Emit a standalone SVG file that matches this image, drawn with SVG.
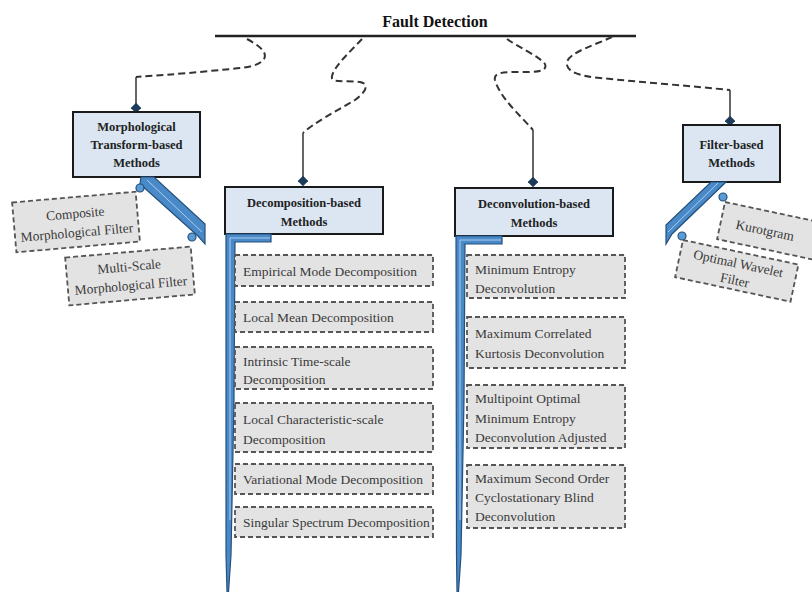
<svg xmlns="http://www.w3.org/2000/svg" width="812" height="592" viewBox="0 0 812 592">
<style>
.title{font-family:"Liberation Serif","Times New Roman",serif;font-weight:bold;font-size:16px;fill:#111;text-anchor:middle}
.hdr rect{fill:#dbe6f2;stroke:#1a1a1a;stroke-width:2}
.hdr text{font-family:"Liberation Serif","Times New Roman",serif;font-weight:bold;font-size:12.5px;fill:#222;text-anchor:middle}
.item rect{fill:#e3e3e3;stroke:#555;stroke-width:1.8;stroke-dasharray:5 3}
.item text{font-family:"Liberation Serif","Times New Roman",serif;font-size:13.5px;fill:#3a3a3a}
.item text.c{text-anchor:middle}
.dash{fill:none;stroke:#333;stroke-width:2;stroke-dasharray:7 4}
.solid{fill:none;stroke:#333;stroke-width:1.5}
.spine{fill:#4a89c8;stroke:#23507c;stroke-width:1.2}
.hl{fill:none;stroke:#a9cdef;stroke-width:1}
.hook{fill:#5b9bd5;stroke:#23507c;stroke-width:1.2}
</style>
<defs>
<marker id="dia" viewBox="0 0 10 10" refX="5" refY="5" markerWidth="7" markerHeight="7" orient="auto">
<path d="M0,5 L5,0 L10,5 L5,10 Z" fill="#1f3b5a"/>
</marker>
</defs>
<rect width="812" height="592" fill="#fff"/>

<g id="root">
<text class="title" x="435" y="27">Fault Detection</text>
<line x1="215" y1="36" x2="636" y2="36" stroke="#222" stroke-width="2.5"/>
</g>

<g id="connectors">
<path class="dash" d="M247,39 C258,45 268,52 264,59 C258,68 240,68 210,71 C180,74 150,76 136,77"/>
<path class="solid" d="M136,77 L136,108" marker-end="url(#dia)"/>
<path class="dash" d="M362,39 C350,52 335,65 332,76 C330,84 345,80 360,82 C370,84 366,92 355,100 C335,112 315,122 303,133"/>
<path class="solid" d="M303,133 L303,181" marker-end="url(#dia)"/>
<path class="dash" d="M507,39 C520,48 540,57 545,64 C548,72 535,72 520,72 C505,72 493,72 495,80 C500,98 520,115 533,130"/>
<path class="solid" d="M533,130 L533,182" marker-end="url(#dia)"/>
<path class="dash" d="M612,37 C595,45 570,52 567,62 C565,72 580,76 600,78 C640,82 690,86 730,90"/>
<path class="solid" d="M730,90 L730,121" marker-end="url(#dia)"/>
</g>

<g id="morph" class="hdr">
<rect x="73" y="112" width="127" height="65"/>
<text x="136.5" y="131">Morphological</text>
<text x="136.5" y="149">Transform-based</text>
<text x="136.5" y="167">Methods</text>
</g>
<g id="decomp" class="hdr">
<rect x="225" y="187" width="158" height="47"/>
<text x="304" y="207">Decomposition-based</text>
<text x="304" y="226">Methods</text>
</g>
<g id="deconv" class="hdr">
<rect x="455" y="188" width="158" height="48"/>
<text x="534" y="208">Deconvolution-based</text>
<text x="534" y="227">Methods</text>
</g>
<g id="filter" class="hdr">
<rect x="683" y="125" width="97" height="57"/>
<text x="731.5" y="149">Filter-based</text>
<text x="731.5" y="167">Methods</text>
</g>

<g id="spines">
<polygon class="spine" points="141,177 154,177 205,224 205,244 198,236 140,184"/>
<line class="hl" x1="147" y1="180" x2="202" y2="232"/>
<polygon class="spine" points="711,182 726,182 672,234 666,244 666,225"/>
<line class="hl" x1="718" y1="183" x2="668" y2="232"/>
<polygon class="spine" points="226,234 271,234 271,242 235,242 234,400 231,555 228.5,592 227,592 226,555"/>
<polyline class="hl" points="230,520 230,238 270,238"/>
<polygon class="spine" points="456,236 502,236 502,244 465,244 464,400 461,555 458.5,592 457,592 456.5,555"/>
<polyline class="hl" points="460,520 460,240 501,240"/>
<circle class="hook" cx="140" cy="188" r="4"/>
<circle class="hook" cx="192" cy="237" r="4"/>
<circle class="hook" cx="723" cy="197" r="4"/>
<circle class="hook" cx="682" cy="236" r="4"/>
</g>

<g id="m1" class="item" transform="rotate(-5 76 222)">
<rect x="14" y="197" width="124" height="50"/>
<text class="c" x="76" y="218">Composite</text>
<text class="c" x="76" y="237">Morphological Filter</text>
</g>
<g id="m2" class="item" transform="rotate(-5 130 276)">
<rect x="67" y="252" width="126" height="48"/>
<text class="c" x="130" y="271">Multi-Scale</text>
<text class="c" x="130" y="290">Morphological Filter</text>
</g>

<g id="f1" class="item" transform="rotate(12 725 202)">
<rect x="725" y="202" width="102" height="38"/>
<text class="c" x="770" y="226">Kurotgram</text>
</g>
<g id="f2" class="item" transform="rotate(12 683 240)">
<rect x="683" y="240" width="118" height="38"/>
<text class="c" x="742" y="256">Optimal Wavelet</text>
<text class="c" x="742" y="273">Filter</text>
</g>

<g id="d1" class="item"><rect x="235" y="255" width="198" height="31"/><text x="243" y="276">Empirical Mode Decomposition</text></g>
<g id="d2" class="item"><rect x="235" y="302" width="198" height="30"/><text x="243" y="322">Local Mean Decomposition</text></g>
<g id="d3" class="item"><rect x="235" y="347" width="198" height="42"/><text x="243" y="366">Intrinsic Time-scale</text><text x="243" y="384">Decomposition</text></g>
<g id="d4" class="item"><rect x="235" y="403" width="198" height="49"/><text x="243" y="424">Local Characteristic-scale</text><text x="243" y="444">Decomposition</text></g>
<g id="d5" class="item"><rect x="235" y="464" width="198" height="30"/><text x="243" y="484">Variational Mode Decomposition</text></g>
<g id="d6" class="item"><rect x="235" y="507" width="198" height="30"/><text x="243" y="527">Singular Spectrum Decomposition</text></g>

<g id="c1" class="item"><rect x="467" y="255" width="158" height="43"/><text x="475" y="274">Minimum Entropy</text><text x="475" y="293">Deconvolution</text></g>
<g id="c2" class="item"><rect x="467" y="317" width="158" height="51"/><text x="475" y="338">Maximum Correlated</text><text x="475" y="358">Kurtosis Deconvolution</text></g>
<g id="c3" class="item"><rect x="467" y="385" width="158" height="63"/><text x="475" y="403">Multipoint Optimal</text><text x="475" y="423">Minimum Entropy</text><text x="475" y="442">Deconvolution Adjusted</text></g>
<g id="c4" class="item"><rect x="467" y="465" width="158" height="63"/><text x="475" y="483">Maximum Second Order</text><text x="475" y="502">Cyclostationary Blind</text><text x="475" y="521">Deconvolution</text></g>
</svg>
